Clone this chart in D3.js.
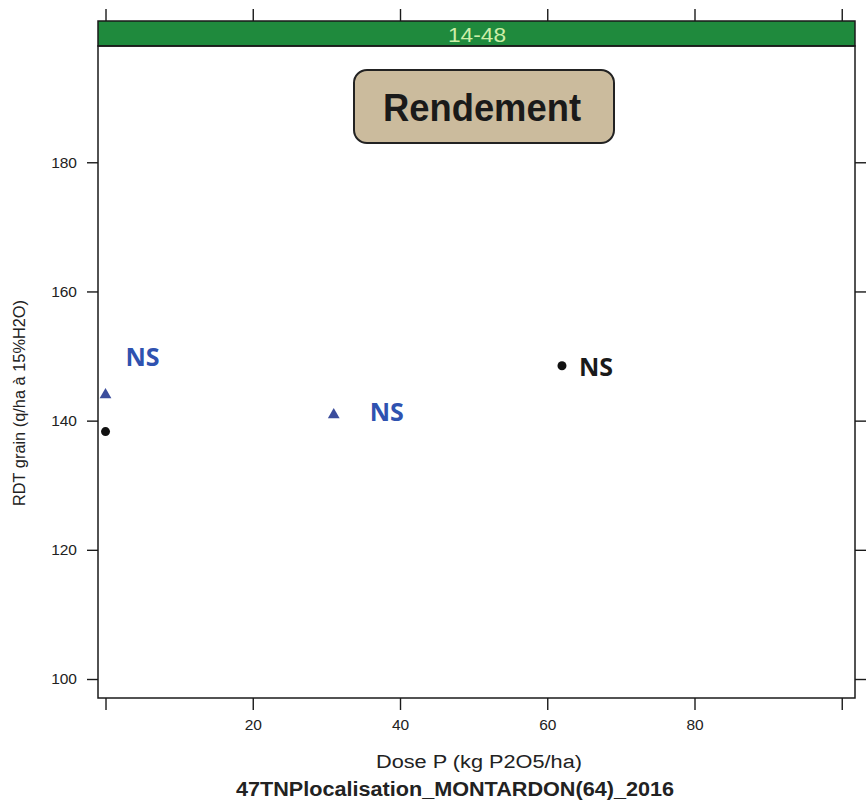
<!DOCTYPE html>
<html><head><meta charset="utf-8">
<script src="https://cdn.jsdelivr.net/npm/d3@7"></script>
<style>body{margin:0;background:#fff}</style>
</head><body>
<svg id="c" width="868" height="805"></svg>
<script>
const stripLabel = "14-48";
const titleBox = "Rendement";
const xLabel = "Dose P (kg P2O5/ha)";
const yLabel = "RDT grain (q/ha à 15%H2O)";
const subTitle = "47TNPlocalisation_MONTARDON(64)_2016";
const xTicks = [0,20,40,60,80,100];
const xTickLabels = ["","20","40","60","80",""];
const yTicks = [100,120,140,160,180];
// series
const circleDose = [0, 62];
const circleYield = [138.3, 148.5];
const circleSig = ["", "NS"];
const triDose = [0, 31];
const triYield = [144.0, 140.9];
const triSig = ["NS", "NS"];

const svg = d3.select("#c");
const L=98, R=855, T=46, B=698, stripTop=21;
const x = d3.scaleLinear().domain([-1.02,101.8]).range([L,R]);
const y = d3.scaleLinear().domain([97.06,198]).range([B,T]);
const font = "'Liberation Sans',Arial,sans-serif";

// strip
svg.append("rect").attr("x",L).attr("y",stripTop).attr("width",R-L).attr("height",T-stripTop)
  .attr("fill","#1f8a3d").attr("stroke","#1a1a1a").attr("stroke-width",1.5);
svg.append("text").attr("x",477).attr("y",42).attr("text-anchor","middle")
  .attr("font-family",font).attr("font-size",21).attr("textLength",58).attr("lengthAdjust","spacingAndGlyphs")
  .attr("fill","#cdeea8").text(stripLabel);

// panel
svg.append("rect").attr("x",L).attr("y",T).attr("width",R-L).attr("height",B-T)
  .attr("fill","none").attr("stroke","#1a1a1a").attr("stroke-width",1.5);

// axes
const axB = d3.axisBottom(x).tickValues(xTicks).tickSize(12).tickPadding(9).tickFormat((d,i)=>xTickLabels[i]);
const gB = svg.append("g").attr("transform",`translate(0,${B})`).call(axB);
const axT = d3.axisTop(x).tickValues(xTicks).tickSize(12).tickFormat("");
const gT = svg.append("g").attr("transform",`translate(0,${stripTop})`).call(axT);
const axL = d3.axisLeft(y).tickValues(yTicks).tickSize(11).tickPadding(10);
const gL = svg.append("g").attr("transform",`translate(${L},0)`).call(axL);
const axR = d3.axisRight(y).tickValues(yTicks).tickSize(11).tickFormat("");
const gR = svg.append("g").attr("transform",`translate(${R},0)`).call(axR);
[gB,gT,gL,gR].forEach(g=>{
  g.select(".domain").remove();
  g.selectAll("line").attr("stroke","#1a1a1a").attr("stroke-width",1.4);
  g.selectAll("text").attr("font-family",font).attr("font-size",15.5).attr("fill","#222");
});

// title box
svg.append("rect").attr("x",354).attr("y",70).attr("width",260).attr("height",73).attr("rx",13)
  .attr("fill","#cbbb9d").attr("stroke","#222").attr("stroke-width",2);
svg.append("text").attr("x",482).attr("y",121).attr("text-anchor","middle")
  .attr("font-family",font).attr("font-weight","bold").attr("font-size",39)
  .attr("textLength",198).attr("lengthAdjust","spacingAndGlyphs").attr("fill","#1a1a1a").text(titleBox);

// labels
svg.append("text").attr("transform","translate(25,403) rotate(-90)").attr("text-anchor","middle")
  .attr("font-family",font).attr("font-size",16.5).attr("textLength",206).attr("lengthAdjust","spacingAndGlyphs")
  .attr("fill","#222").text(yLabel);
svg.append("text").attr("x",479).attr("y",768).attr("text-anchor","middle")
  .attr("font-family",font).attr("font-size",18).attr("textLength",206).attr("lengthAdjust","spacingAndGlyphs")
  .attr("fill","#222").text(xLabel);
svg.append("text").attr("x",455).attr("y",796).attr("text-anchor","middle")
  .attr("font-family",font).attr("font-weight","bold").attr("font-size",20)
  .attr("textLength",438).attr("lengthAdjust","spacingAndGlyphs").attr("fill","#222").text(subTitle);

// points
const circ = circleDose.map((d,i)=>({d, v:circleYield[i], s:circleSig[i]}));
const tri = triDose.map((d,i)=>({d, v:triYield[i], s:triSig[i]}));
svg.selectAll(".c").data(circ).enter().append("circle")
  .attr("cx",d=>x(d.d)).attr("cy",d=>y(d.v)).attr("r",4.5).attr("fill","#111");
svg.selectAll(".t").data(tri).enter().append("path")
  .attr("d",d3.symbol().type(d3.symbolTriangle).size(60))
  .attr("transform",d=>`translate(${x(d.d)},${y(d.v)})`).attr("fill","#3b4d9c");

const nsFont = "'Open Sans','Noto Sans',sans-serif";
svg.selectAll(".ct").data(circ.filter(d=>d.s)).enter().append("text")
  .attr("x",d=>x(d.d)+17).attr("y",d=>y(d.v)+10)
  .attr("font-family",nsFont).attr("font-weight","bold").attr("font-size",25).attr("fill","#1a1a1a").text(d=>d.s);
// triangle labels: first above-right, second right
const triOff = [[20,-29],[36,6]];
svg.selectAll(".tt").data(tri).enter().append("text")
  .attr("x",(d,i)=>x(d.d)+triOff[i][0]).attr("y",(d,i)=>y(d.v)+triOff[i][1])
  .attr("font-family",nsFont).attr("font-weight","bold").attr("font-size",25).attr("fill","#2f52b0").text(d=>d.s);
</script>
</body></html>
